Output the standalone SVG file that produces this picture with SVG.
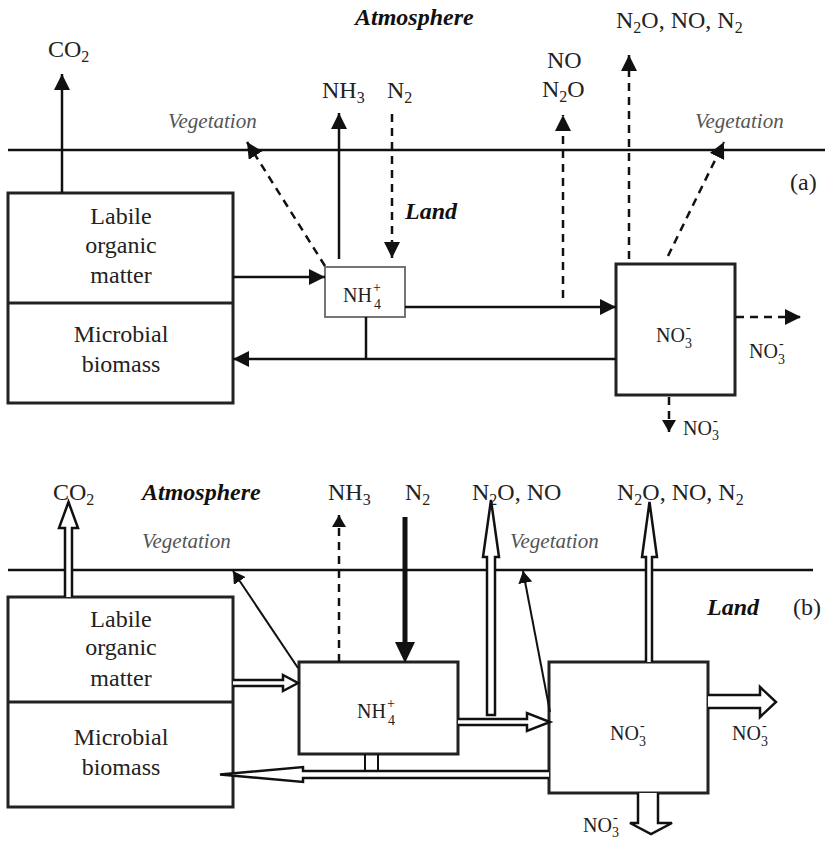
<svg xmlns="http://www.w3.org/2000/svg" width="825" height="841" viewBox="0 0 825 841" font-family="Liberation Serif, Times New Roman, serif">
<style>
.ln{stroke:#111;stroke-width:2.5;fill:none}
.thin{stroke:#111;stroke-width:2;fill:none}
.dash{stroke-dasharray:8,6}
.box{fill:#fff;stroke:#222;stroke-width:3}
.hol{fill:#fff;stroke:#111;stroke-width:2.5;stroke-linejoin:miter}
text{font-family:'Liberation Serif','Times New Roman',serif}
.t{font-size:24px;fill:#222}
.c{text-anchor:middle}
.h{font-weight:bold;font-style:italic;fill:#111}
.veg{font-style:italic;fill:#555;font-size:21px}
.s{font-size:20px}
.sm{font-size:14px;fill:#222}
</style>
<defs>
<marker id="ah" markerUnits="userSpaceOnUse" markerWidth="17" markerHeight="16" refX="16" refY="8" orient="auto" viewBox="0 0 17 16">
<path d="M0,0 L16,8 L0,16 z" fill="#111"/>
</marker>
<marker id="ahs" markerUnits="userSpaceOnUse" markerWidth="13" markerHeight="14" refX="12" refY="7" orient="auto" viewBox="0 0 13 14">
<path d="M0,0 L12,7 L0,14 z" fill="#111"/>
</marker>
</defs>

<!-- ========== Panel (a) ========== -->
<g id="a-surface"><line class="ln" x1="8" y1="150" x2="825" y2="150"/></g>
<g id="a-labels">
<text class="t h" x="355" y="25">Atmosphere</text>
<text class="t h" x="405" y="219">Land</text>
<text class="t" x="790" y="190">(a)</text>
<text class="t" x="48" y="57">CO<tspan dy="5" font-size="16">2</tspan></text>
<text class="t veg" x="168" y="128">Vegetation</text>
<text class="t veg" x="695" y="128">Vegetation</text>
<text class="t" x="322" y="98">NH<tspan dy="5" font-size="16">3</tspan></text>
<text class="t" x="387" y="98">N<tspan dy="5" font-size="16">2</tspan></text>
<text class="t" x="547" y="68">NO</text>
<text class="t" x="542" y="97">N<tspan dy="5" font-size="16">2</tspan><tspan dy="-5">O</tspan></text>
<text class="t" x="616" y="28">N<tspan dy="5" font-size="16">2</tspan><tspan dy="-5">O, NO, N</tspan><tspan dy="5" font-size="16">2</tspan></text>
<text class="t s" x="749" y="358">NO</text><text class="sm" x="779" y="348">-</text><text class="sm" x="778" y="364">3</text>
<text class="t s" x="683" y="435">NO</text><text class="sm" x="713" y="425">-</text><text class="sm" x="712" y="440">3</text>
</g>
<g id="a-labile">
<rect class="box" x="8" y="193" width="225" height="210"/>
<line class="box" x1="8" y1="303" x2="233" y2="303"/>
<text class="t c" x="121" y="224">Labile</text>
<text class="t c" x="121" y="253">organic</text>
<text class="t c" x="121" y="283">matter</text>
<text class="t c" x="121" y="342">Microbial</text>
<text class="t c" x="121" y="372">biomass</text>
</g>
<g id="a-nh4">
<rect x="325" y="267" width="80" height="50" fill="#fff" stroke="#666" stroke-width="1.8"/>
<text class="t s" x="343" y="302">NH</text><text class="sm" x="373" y="292">+</text><text class="sm" x="374" y="309">4</text>
</g>
<g id="a-no3">
<rect class="box" x="616" y="264" width="119" height="131"/>
<text class="t s" x="656" y="342">NO</text><text class="sm" x="686" y="332">-</text><text class="sm" x="685" y="348">3</text>
</g>
<g id="a-connectors">
<line class="ln" x1="62" y1="193" x2="62" y2="74" marker-end="url(#ah)"/>
<line class="ln" x1="339" y1="259" x2="339" y2="113" marker-end="url(#ah)"/>
<line class="ln dash" x1="392" y1="114" x2="392" y2="258" marker-end="url(#ah)"/>
<line class="ln dash" x1="325" y1="266" x2="247" y2="142" marker-end="url(#ah)"/>
<line class="ln dash" x1="563" y1="298" x2="563" y2="115" marker-end="url(#ah)"/>
<line class="ln dash" x1="629" y1="259" x2="629" y2="55" marker-end="url(#ah)"/>
<line class="ln dash" x1="668" y1="256" x2="724" y2="142" marker-end="url(#ah)"/>
<line class="ln" x1="233" y1="277" x2="325" y2="277" marker-end="url(#ah)"/>
<line class="ln" x1="405" y1="307" x2="616" y2="307" marker-end="url(#ah)"/>
<line class="ln" x1="616" y1="359" x2="233" y2="359" marker-end="url(#ah)"/>
<line class="ln" x1="366" y1="317" x2="366" y2="359"/>
<line class="ln dash" x1="736" y1="317" x2="801" y2="317" marker-end="url(#ah)"/>
<line class="ln dash" x1="669" y1="397" x2="669" y2="432" marker-end="url(#ahs)"/>
</g>

<!-- ========== Panel (b) ========== -->
<g id="b-surface"><line class="ln" x1="8" y1="570" x2="813" y2="570"/></g>
<g id="b-labels">
<text class="t" x="53" y="500">CO<tspan dy="5" font-size="16">2</tspan></text>
<text class="t h" x="142" y="500">Atmosphere</text>
<text class="t" x="328" y="500">NH<tspan dy="5" font-size="16">3</tspan></text>
<text class="t" x="405" y="500">N<tspan dy="5" font-size="16">2</tspan></text>
<text class="t" x="472" y="500">N<tspan dy="5" font-size="16">2</tspan><tspan dy="-5">O, NO</tspan></text>
<text class="t" x="617" y="500">N<tspan dy="5" font-size="16">2</tspan><tspan dy="-5">O, NO, N</tspan><tspan dy="5" font-size="16">2</tspan></text>
<text class="t veg" x="142" y="548">Vegetation</text>
<text class="t veg" x="510" y="548">Vegetation</text>
<text class="t h" x="707" y="615">Land</text>
<text class="t" x="793" y="615">(b)</text>
<text class="t s" x="732" y="740">NO</text><text class="sm" x="762" y="730">-</text><text class="sm" x="761" y="746">3</text>
<text class="t s" x="583" y="832">NO</text><text class="sm" x="613" y="822">-</text><text class="sm" x="612" y="837">3</text>
</g>
<g id="b-labile">
<rect class="box" x="8" y="597" width="225" height="210"/>
<line class="box" x1="8" y1="702" x2="233" y2="702"/>
<text class="t c" x="121" y="627">Labile</text>
<text class="t c" x="121" y="655">organic</text>
<text class="t c" x="121" y="686">matter</text>
<text class="t c" x="121" y="745">Microbial</text>
<text class="t c" x="121" y="775">biomass</text>
</g>
<g id="b-nh4">
<rect class="box" x="299" y="662" width="159" height="92"/>
<text class="t s" x="357" y="718">NH</text><text class="sm" x="387" y="708">+</text><text class="sm" x="388" y="725">4</text>
</g>
<g id="b-no3">
<rect class="box" x="549" y="662" width="159" height="131"/>
<text class="t s" x="610" y="740">NO</text><text class="sm" x="640" y="730">-</text><text class="sm" x="639" y="746">3</text>
</g>
<g id="b-connectors">
<path class="hol" d="M65,597 V528 H59 L68.5,502 L78,528 H72 V597"/>
<line class="ln dash" x1="339" y1="662" x2="339" y2="515" marker-end="url(#ahs)"/>
<line stroke="#111" stroke-width="5" x1="405" y1="517" x2="405" y2="644"/>
<path d="M395,642 L415,642 L405,663 z" fill="#111"/>
<path class="hol" d="M487,715 V557 H483 L491,500 L499,557 H495 V715 Z"/>
<path class="hol" d="M646,662 V557 H642 L649.5,502 L657,557 H652 V662"/>
<line class="thin" x1="298" y1="668" x2="233" y2="571" marker-end="url(#ahs)"/>
<line class="thin" x1="550" y1="712" x2="523" y2="571" marker-end="url(#ahs)"/>
<path class="hol" d="M233,680 H283 V675 L298,683 L283,691 V686 H233"/>
<path class="hol" d="M458,719 H527 V713 L550,722 L527,731 V725 H458"/>
<path class="hol" d="M549,771 H303 V767 L220,774.5 L303,782 V778 H549"/>
<line class="thin" x1="365" y1="754" x2="365" y2="771"/>
<line class="thin" x1="378" y1="754" x2="378" y2="771"/>
<path class="hol" d="M708,695 H760 V687 L776,702 L760,717 V708 H708"/>
<path class="hol" d="M638,793 V823 H630 L651,834 L672,823 H658 V793"/>
</g>
</svg>
